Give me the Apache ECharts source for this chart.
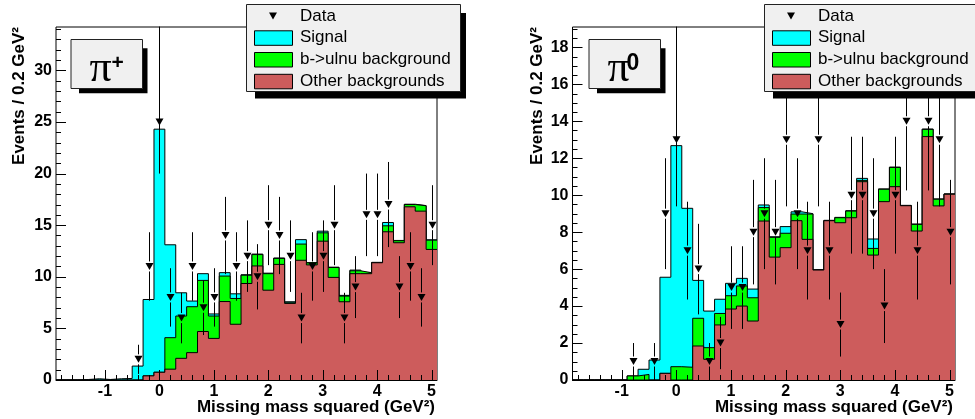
<!DOCTYPE html>
<html><head><meta charset="utf-8">
<script src="https://cdn.jsdelivr.net/npm/echarts@6/dist/echarts.min.js"></script>
<style>html,body{margin:0;padding:0;background:#fff}#c{width:975px;height:419px}</style>
</head><body><div id="c"></div>
<script>
// ---------- data ----------
const binCenters = [-1.8,-1.6,-1.4,-1.2,-1.0,-0.8,-0.6,-0.4,-0.2,0.0,0.2,0.4,0.6,0.8,1.0,1.2,1.4,1.6,1.8,2.0,2.2,2.4,2.6,2.8,3.0,3.2,3.4,3.6,3.8,4.0,4.2,4.4,4.6,4.8,5.0];
const binWidth = 0.2;
const xRange = [-1.9, 5.1];

// pi+ panel
const plusOther  = [0,0,0,0,0,0,0,0,0.4,0.75,1.05,2.1,2.65,4.7,4.03,7.6,5.4,9.35,11.05,8.7,11.2,7.42,11.6,11.15,13.45,9.94,7.58,10.3,10.3,11.36,14.36,13.3,16.78,16.36,12.65];
const plusBulnu  = [0,0,0,0,0,0,0,0,0,0,3.05,4.1,4.45,4.95,2.17,2.47,2.5,0.8,1.1,1.6,0.58,0.06,1.57,0.2,0.81,0.96,0.55,0.28,0.09,0.02,0.58,0.19,0.22,0.52,0.9];
const plusSignal = [0,0,0.05,0.12,0.05,0.12,0.15,1.35,7.4,23.55,9.0,2.25,0.55,0.65,0.2,0.33,0.45,0.05,0.05,0.05,0.04,0.1,0.43,0.03,0.16,0.03,0.07,0.07,0.03,0.02,0.32,0.03,0.03,0.02,0.03];
const plusData   = [0,0,0,0,0,0,0,2,11,25,8,6,11,7,8,14,11,12,10,15,14,12,6,11,12,15,6,9,16,16,17,9,11,8,15];

// pi0 panel
const zeroOther  = [0,0,0,0,0,0,0,0,0.36,0,0,1.84,1.12,2.98,3.84,4.0,3.19,8.6,6.65,7.16,8.62,7.61,5.95,8.62,8.51,8.78,10.73,6.76,9.65,10.46,9.43,8.06,13.17,9.42,10.05];
const zeroBulnu  = [0,0,0,0,0,0.22,0.3,0,0,0.72,0.69,1.5,0.63,0.62,0.72,1.09,1.26,0.73,1.07,0.78,0.36,1.37,0,0,0.27,0.36,0.07,0.36,0.67,1.04,0.01,0.36,0.39,0.36,0.01];
const zeroSignal = [0,0,0,0,0,0,0.28,1.08,5.2,11.96,8.6,2.05,1.98,0.77,0.67,0.41,0.47,0.14,0.03,0.36,0.12,0.02,0.02,0.02,0.02,0.02,0.11,0.51,0.02,0.02,0.01,0.02,0.02,0.02,0.01];
const zeroData   = [0,0,0,0,0,1,0,1,9,13,7,6,1,2,5,5,8,9,8,13,9,7,13,7,3,10,10,9,4,10,14,7,14,13,8];

// axes / ticks
const yMaxPlus = 34.2, yStepPlus = 5;
const yMaxZero = 19.1, yStepZero = 2;
const xTickMajor = [-1,0,1,2,3,4,5];
const xTickMinor = [-1.8,-1.6,-1.4,-1.2,-0.8,-0.6,-0.4,-0.2,0.2,0.4,0.6,0.8,1.2,1.4,1.6,1.8,2.2,2.4,2.6,2.8,3.2,3.4,3.6,3.8,4.2,4.4,4.6,4.8,5.0];
const yTickMajorPlus = [0,5,10,15,20,25,30];
const yTickMinorPlus = [1,2,3,4,6,7,8,9,11,12,13,14,16,17,18,19,21,22,23,24,26,27,28,29,31,32,33,34];
const yTickMajorZero = [0,2,4,6,8,10,12,14,16,18];
const yTickMinorZero = [0.5,1,1.5,2.5,3,3.5,4.5,5,5.5,6.5,7,7.5,8.5,9,9.5,10.5,11,11.5,12.5,13,13.5,14.5,15,15.5,16.5,17,17.5,18.5,19];

const legendLabels = ['Data','Signal','b->ulnu background','Other backgrounds'];
const panelLabels = [{base:'π', sup:'+'}, {base:'π', sup:'0'}];
const xTitle = 'Missing mass squared (GeV²)';
const yTitle = 'Events / 0.2 GeV²';

const C_SIGNAL = '#00ffff', C_BULNU = '#00ff00', C_OTHER = '#cd5c5c';
const SANS = 'Liberation Sans', SERIF = 'Liberation Serif';

// ---------- helpers ----------
function stepData(vals){
  const d = [];
  for (let i = 0; i < vals.length; i++) d.push([binCenters[i] - binWidth/2, vals[i]]);
  d.push([binCenters[vals.length-1] + binWidth/2, vals[vals.length-1]]);
  return d;
}
function addArr(a, b){ return a.map((v,i)=>v + b[i]); }

function histSeries(gi, vals, color, z){
  return {type:'line', xAxisIndex:gi, yAxisIndex:gi, step:'end', data:stepData(vals),
    showSymbol:false, symbol:'none', lineStyle:{color:'#000', width:1},
    areaStyle:{color:color, opacity:1}, z:z, silent:true, animation:false};
}
function dataSeries(gi, vals){
  return {type:'custom', xAxisIndex:gi, yAxisIndex:gi, z:6, silent:true, animation:false,
    data: binCenters.map((c,i)=>[c, vals[i]]),
    renderItem(params, api){
      const x = api.value(0), n = api.value(1);
      if (!(n > 0)) return null;
      const e = Math.sqrt(n);
      const pc = api.coord([x, n]), pt = api.coord([x, n+e]), pb = api.coord([x, Math.max(0, n-e)]);
      const cx = Math.round(pc[0]) + 0.5, cy = pc[1];
      const hw = 4, hh = 3.5;
      return {type:'group', children:[
        {type:'line', shape:{x1:cx, y1:pt[1], x2:cx, y2:cy-hh-1.5}, style:{stroke:'#000', lineWidth:1}},
        {type:'line', shape:{x1:cx, y1:cy+hh+1.5, x2:cx, y2:pb[1]}, style:{stroke:'#000', lineWidth:1}},
        {type:'polygon', shape:{points:[[cx-hw, cy-hh],[cx+hw, cy-hh],[cx, cy+hh]]}, style:{fill:'#000'}}
      ]};
    }};
}
function xTickSeries(gi){
  const d = xTickMajor.map(v=>[v, 10]).concat(xTickMinor.map(v=>[v, 5]));
  return {type:'custom', xAxisIndex:gi, yAxisIndex:gi, z:7, silent:true, animation:false, data:d,
    renderItem(params, api){
      const p = api.coord([api.value(0), 0]);
      const x = Math.round(p[0]) + 0.5;
      return {type:'line', shape:{x1:x, y1:p[1], x2:x, y2:p[1]-api.value(1)}, style:{stroke:'#000', lineWidth:1}};
    }};
}
function yTickSeries(gi, major, minor){
  const d = major.map(v=>[v, 10]).concat(minor.map(v=>[v, 5]));
  return {type:'custom', xAxisIndex:gi, yAxisIndex:gi, z:7, silent:true, animation:false, data:d,
    encode:{x:1, y:0},
    renderItem(params, api){
      const p = api.coord([xRange[0], api.value(0)]);
      const y = Math.round(p[1]) + 0.5;
      return {type:'line', shape:{x1:p[0], y1:y, x2:p[0]+api.value(1), y2:y}, style:{stroke:'#000', lineWidth:1}};
    }};
}

function legendGraphics(bx){
  const g = [];
  const by = 4.5, bw = 214, bh = 87;
  g.push({type:'rect', z:100, shape:{x:bx+9, y:by+8.5, width:bw-3, height:bh-1.5}, style:{fill:'#000'}});
  g.push({type:'rect', z:101, shape:{x:bx+0.5, y:by, width:bw, height:bh}, style:{fill:'#f0f0f0', stroke:'#222', lineWidth:1}});
  const tx = bx + 54;
  const rows = [16, 37.8, 59.5, 81.3];
  const mx = bx + 27;
  g.push({type:'polygon', z:102, shape:{points:[[mx-4, rows[0]-3.5],[mx+4, rows[0]-3.5],[mx, rows[0]+3.5]]}, style:{fill:'#000'}});
  const cols = [null, C_SIGNAL, C_BULNU, C_OTHER];
  for (let i = 0; i < 4; i++){
    if (cols[i]) g.push({type:'rect', z:102, shape:{x:bx+8.5, y:rows[i]-7, width:38, height:14.5}, style:{fill:cols[i], stroke:'#000', lineWidth:1}});
    g.push({type:'text', z:102, x:tx, y:rows[i], style:{text:legendLabels[i], fontFamily:SANS, fontSize:17, fill:'#000', align:'left', verticalAlign:'middle'}});
  }
  return g;
}
function piBox(bx, lab, supSize, supDx, supY){
  const by = 39.5, bw = 71.5, bh = 49;
  return [
    {type:'rect', z:100, shape:{x:bx+8.5, y:by+8.8, width:bw-3, height:bh-4}, style:{fill:'#000'}},
    {type:'rect', z:101, shape:{x:bx+0.5, y:by, width:bw, height:bh}, style:{fill:'#f0f0f0', stroke:'#222', lineWidth:1}},
    {type:'text', z:102, x:bx+19, y:69, style:{text:lab.base, fontFamily:SERIF, fontSize:44, fill:'#000', align:'left', verticalAlign:'middle'}},
    {type:'text', z:102, x:bx+supDx, y:supY, style:{text:lab.sup, fontFamily:SANS, fontWeight:'bold', fontSize:supSize, fill:'#000', align:'left', verticalAlign:'middle'}}
  ];
}
function titleGraphics(yx, xRight){
  return [
    {type:'text', z:50, x:yx, y:27, rotation:Math.PI/2, style:{text:yTitle, fontFamily:SANS, fontWeight:'bold', fontSize:17, fill:'#000', align:'right', verticalAlign:'middle'}},
    {type:'text', z:50, x:xRight, y:407, style:{text:xTitle, fontFamily:SANS, fontWeight:'bold', fontSize:17, fill:'#000', align:'right', verticalAlign:'middle'}}
  ];
}

// ---------- option ----------
const grids = [
  {left:56, top:27, width:381, height:353, show:true, borderColor:'#000', borderWidth:1, backgroundColor:'transparent'},
  {left:572.5, top:27, width:382.5, height:353, show:true, borderColor:'#000', borderWidth:1, backgroundColor:'transparent'}
];
const labelFont = {fontFamily:SANS, fontWeight:'bold', fontSize:16, color:'#000'};
function xAxisOf(gi){
  return {type:'value', gridIndex:gi, min:xRange[0], max:xRange[1], splitNumber:7,
    axisLine:{show:true, lineStyle:{color:'#000'}}, axisTick:{show:false}, splitLine:{show:false},
    axisLabel:Object.assign({margin:4, showMinLabel:false, showMaxLabel:false}, labelFont)};
}
function yAxisOf(gi, max, step){
  return {type:'value', gridIndex:gi, min:0, max:max, interval:step,
    axisLine:{show:true, lineStyle:{color:'#000'}}, axisTick:{show:false}, splitLine:{show:false},
    axisLabel:Object.assign({margin:4, showMaxLabel:false}, labelFont)};
}

const plusGreen = addArr(plusOther, plusBulnu), plusTotal = addArr(plusGreen, plusSignal);
const zeroGreen = addArr(zeroOther, zeroBulnu), zeroTotal = addArr(zeroGreen, zeroSignal);

const option = {
  animation:false,
  grid:grids,
  xAxis:[xAxisOf(0), xAxisOf(1)],
  yAxis:[yAxisOf(0, yMaxPlus, yStepPlus), yAxisOf(1, yMaxZero, yStepZero)],
  series:[
    histSeries(0, plusTotal, C_SIGNAL, 1),
    histSeries(0, plusGreen, C_BULNU, 2),
    histSeries(0, plusOther, C_OTHER, 3),
    dataSeries(0, plusData),
    xTickSeries(0), yTickSeries(0, yTickMajorPlus, yTickMinorPlus),
    histSeries(1, zeroTotal, C_SIGNAL, 1),
    histSeries(1, zeroGreen, C_BULNU, 2),
    histSeries(1, zeroOther, C_OTHER, 3),
    dataSeries(1, zeroData),
    xTickSeries(1), yTickSeries(1, yTickMajorZero, yTickMinorZero)
  ],
  graphic:{elements:[].concat(
    legendGraphics(246), legendGraphics(764),
    piBox(70.5, panelLabels[0], 21, 41, 63),
    piBox(588.5, panelLabels[1], 23, 38, 63.5)
  ).concat(titleGraphics(19, 435), titleGraphics(537, 953))}
};
const chart = echarts.init(document.getElementById('c'), null, {renderer:'canvas'});
chart.setOption(option);
</script></body></html>
